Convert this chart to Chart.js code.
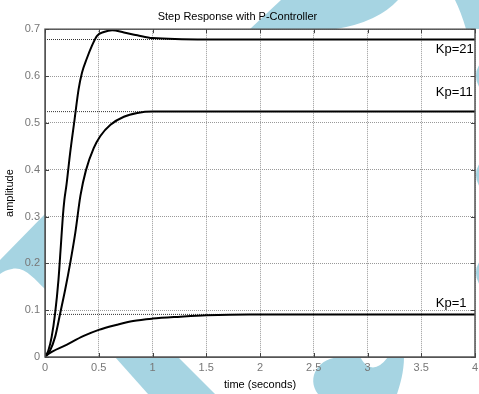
<!DOCTYPE html>
<html>
<head>
<meta charset="utf-8">
<script src="https://cdn.jsdelivr.net/npm/chart.js@4.4.1/dist/chart.umd.min.js"></script>
<style>
html, body { margin: 0; padding: 0; background: #fff; }
canvas { display: block; }
</style>
</head>
<body>
<canvas id="myChart" width="479" height="394"></canvas>
<script>
// values
var tKp21 = [0, 0.031, 0.062, 0.094, 0.125, 0.147, 0.166, 0.18, 0.2, 0.234, 0.275, 0.312, 0.344, 0.39, 0.437, 0.484, 0.547, 0.625, 0.734, 0.859, 1.0, 1.5, 2, 2.5, 3, 3.5, 4];
var yKp21 = [0, 0.014, 0.043, 0.093, 0.164, 0.236, 0.300, 0.335, 0.368, 0.436, 0.507, 0.571, 0.607, 0.638, 0.665, 0.686, 0.694, 0.698, 0.693, 0.687, 0.681, 0.678, 0.678, 0.678, 0.678, 0.678, 0.678];

var tKp11 = [0, 0.047, 0.094, 0.141, 0.187, 0.234, 0.281, 0.33, 0.38, 0.453, 0.515, 0.609, 0.734, 0.859, 1.0, 1.5, 2, 2.5, 3, 3.5, 4];
var yKp11 = [0, 0.014, 0.043, 0.093, 0.143, 0.200, 0.264, 0.345, 0.398, 0.446, 0.472, 0.496, 0.513, 0.521, 0.524, 0.524, 0.524, 0.524, 0.524, 0.524, 0.524];

var tKp1 = [0, 0.016, 0.2, 0.36, 0.5, 0.67, 0.82, 1.0, 1.26, 1.5, 1.9, 2.5, 3, 3.5, 4];
var yKp1 = [0, 0.004, 0.026, 0.045, 0.058, 0.069, 0.077, 0.082, 0.086, 0.089, 0.091, 0.091, 0.091, 0.091, 0.091];

// final values (thin reference lines)
var steadyValues = [0.678, 0.524, 0.091];

var curveNames = ['Kp=21', 'Kp=11', 'Kp=1'];
var curveTimes = [tKp21, tKp11, tKp1];
var curveValues = [yKp21, yKp11, yKp1];

function toPoints(ts, ys) {
  var pts = [];
  for (var i = 0; i < ts.length; i++) pts.push({ x: ts[i], y: ys[i] });
  return pts;
}

var datasets = [];
for (var i = 0; i < curveNames.length; i++) {
  datasets.push({
    label: curveNames[i],
    data: toPoints(curveTimes[i], curveValues[i]),
    borderColor: '#000',
    borderWidth: 2,
    pointRadius: 0,
    fill: false,
    cubicInterpolationMode: 'monotone'
  });
}
for (var j = 0; j < steadyValues.length; j++) {
  datasets.push({
    label: 'steady ' + j,
    data: [{ x: 0, y: steadyValues[j] }, { x: 4, y: steadyValues[j] }],
    borderColor: '#333',
    borderWidth: 1,
    borderDash: [1, 1],
    pointRadius: 0,
    fill: false
  });
}

// light blue shapes around the axes, then white plot area
var backdrop = {
  id: 'backdrop',
  beforeDraw: function(chart) {
    var c = chart.ctx, a = chart.chartArea;
    c.save();
    c.fillStyle = '#fff';
    c.fillRect(0, 0, chart.width, chart.height);
    c.fillStyle = '#a6d4e2';
    // top
    c.beginPath();
    c.moveTo(250, 29); c.lineTo(281, 0); c.lineTo(398, 0);
    c.quadraticCurveTo(378, 22, 336, 29); c.closePath(); c.fill();
    c.beginPath();
    c.moveTo(455, 0); c.lineTo(479, 0); c.lineTo(479, 29); c.lineTo(466, 29);
    c.quadraticCurveTo(461, 12, 455, 0); c.closePath(); c.fill();
    // left swoosh
    c.beginPath();
    c.moveTo(0, 260); c.lineTo(45, 214); c.lineTo(45, 289);
    c.bezierCurveTo(35, 280, 25, 266, 12, 269);
    c.quadraticCurveTo(5, 270, 0, 274); c.closePath(); c.fill();
    // bottom band
    c.beginPath();
    c.moveTo(115, 357); c.lineTo(178, 357); c.lineTo(215, 394); c.lineTo(148, 394);
    c.closePath(); c.fill();
    // bottom blob
    c.beginPath();
    c.moveTo(318, 394);
    c.bezierCurveTo(306, 378, 318, 357, 342, 357);
    c.lineTo(360, 357);
    c.quadraticCurveTo(372, 378, 388, 357);
    c.lineTo(404, 357);
    c.bezierCurveTo(404, 372, 400, 385, 397, 394);
    c.closePath(); c.fill();
    // right edge slivers
    [76, 175, 273].forEach(function(cy) {
      c.beginPath(); c.ellipse(485, cy, 9, 14, 0, 0, Math.PI * 2); c.fill();
    });
    c.fillStyle = '#fff';
    c.fillRect(a.left, a.top, a.right - a.left, a.bottom - a.top);
    c.restore();
  },
  afterDraw: function(chart) {
    var c = chart.ctx, a = chart.chartArea;
    var xs = chart.scales.x, ys = chart.scales.y;
    c.save();
    // box
    c.strokeStyle = '#555';
    c.lineWidth = 1.5;
    c.strokeRect(a.left, a.top, a.right - a.left, a.bottom - a.top);
    // inward tick marks on all four sides
    c.lineWidth = 1;
    c.strokeStyle = '#444';
    c.beginPath();
    xs.ticks.forEach(function(t) {
      var px = Math.round(xs.getPixelForValue(t.value)) + 0.5;
      c.moveTo(px, a.bottom); c.lineTo(px, a.bottom - 4);
      c.moveTo(px, a.top); c.lineTo(px, a.top + 4);
    });
    ys.ticks.forEach(function(t) {
      var py = Math.round(ys.getPixelForValue(t.value)) + 0.5;
      c.moveTo(a.left, py); c.lineTo(a.left + 4, py);
      c.moveTo(a.right, py); c.lineTo(a.right - 4, py);
    });
    c.stroke();
    // curve names
    var labelY = [0.650, 0.557, 0.107];
    c.fillStyle = '#000';
    c.font = '13px "Liberation Sans", Arial, sans-serif';
    c.textAlign = 'left';
    c.textBaseline = 'alphabetic';
    for (var i = 0; i < curveNames.length; i++) {
      c.fillText(curveNames[i], xs.getPixelForValue(3.635), ys.getPixelForValue(labelY[i]));
    }
    c.restore();
  }
};

Chart.defaults.font.family = '"Liberation Sans", Arial, sans-serif';

var ctx = document.getElementById('myChart').getContext('2d');
var myChart = new Chart(ctx, {
  type: 'line',
  data: { datasets: datasets },
  plugins: [backdrop],
  options: {
    responsive: false,
    animation: false,
    devicePixelRatio: 1,
    layout: { padding: { left: 0, right: 4, top: 0, bottom: 0 } },
    plugins: {
      legend: { display: false },
      tooltip: { enabled: false },
      title: {
        display: true,
        text: 'Step Response with P-Controller',
        color: '#000',
        font: { size: 11, weight: 'normal' },
        padding: { top: 10, bottom: 6 }
      }
    },
    scales: {
      x: {
        type: 'linear',
        min: 0,
        max: 4,
        afterFit: function(s) { s.height = 37; s.paddingLeft = 0; s.paddingRight = 0; },
        ticks: {
          stepSize: 0.5,
          color: '#777',
          font: { size: 11 },
          padding: 4,
          maxRotation: 0,
          callback: function(v) { return String(Number(v.toFixed(1))); }
        },
        grid: { color: '#999', drawTicks: false },
        border: { display: true, color: '#555', dash: [1, 1] },
        title: {
          display: true,
          text: 'time (seconds)',
          color: '#000',
          font: { size: 11 },
          padding: { top: 0, bottom: 2 }
        }
      },
      y: {
        min: 0,
        max: 0.7,
        afterFit: function(s) { s.width = 45; },
        ticks: {
          stepSize: 0.1,
          color: '#777',
          font: { size: 11 },
          padding: 5,
          callback: function(v) { return String(Number(v.toFixed(1))); }
        },
        grid: { color: '#999', drawTicks: false },
        border: { display: true, color: '#555', dash: [1, 1] },
        title: {
          display: true,
          text: 'amplitude',
          color: '#000',
          font: { size: 11 },
          padding: { top: 3, bottom: 0 }
        }
      }
    }
  }
});
</script>
</body>
</html>
